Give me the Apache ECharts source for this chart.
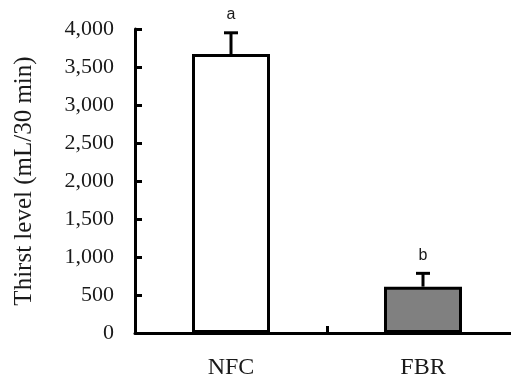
<!DOCTYPE html>
<html>
<head>
<meta charset="utf-8">
<script src="https://cdn.jsdelivr.net/npm/echarts@6/dist/echarts.min.js"></script>
<style>
  html, body { margin: 0; padding: 0; background: #fff; }
  #chart { width: 511px; height: 376px; }
</style>
</head>
<body>
<div id="chart"></div>
<script>
// Thirst level per group, mean and upper error
const categories = ['NFC', 'FBR'];
const means = [3670, 610];
const errors = [280, 175];
const letters = ['a', 'b'];
const yTicks = [0, 500, 1000, 1500, 2000, 2500, 3000, 3500, 4000];

const barColors = ['#ffffff', '#808080'];
const serif = '"Liberation Serif", "DejaVu Serif", serif';
const sans = '"Liberation Sans", Arial, sans-serif';

const chart = echarts.init(document.getElementById('chart'), null, { renderer: 'canvas' });

const errData = categories.map((c, i) => [i, means[i], means[i] + errors[i], letters[i]]);

chart.setOption({
  animation: false,
  backgroundColor: '#ffffff',
  // the category axis runs a little past the right edge of the canvas
  grid: { left: 135, top: 29, width: 384, height: 304, containLabel: false, outerBoundsMode: 'none' },
  xAxis: {
    type: 'category',
    data: categories,
    axisLine: { lineStyle: { color: '#000', width: 3 } },
    axisTick: { show: true, inside: true, length: 7, lineStyle: { color: '#000', width: 3 } },
    axisLabel: { color: '#1a1a1a', fontFamily: serif, fontSize: 24, margin: 23 },
    splitLine: { show: false }
  },
  yAxis: {
    type: 'value',
    min: yTicks[0],
    max: yTicks[yTicks.length - 1],
    interval: 500,
    name: 'Thirst level (mL/30 min)',
    nameLocation: 'middle',
    nameRotate: 90,
    nameGap: 98,
    nameTextStyle: { color: '#1a1a1a', fontFamily: serif, fontSize: 25 },
    axisLine: { show: true, lineStyle: { color: '#000', width: 3 } },
    axisTick: { show: true, inside: true, length: 7, lineStyle: { color: '#000', width: 3 } },
    axisLabel: {
      color: '#1a1a1a', fontFamily: serif, fontSize: 22, margin: 21,
      formatter: v => v.toLocaleString('en-US')
    },
    splitLine: { show: false }
  },
  series: [
    {
      type: 'bar',
      data: means.map((v, i) => ({
        value: v,
        itemStyle: { color: barColors[i], borderColor: '#000', borderWidth: 3 }
      })),
      barWidth: 78,
      z: 2
    },
    {
      type: 'custom',
      z: 3,
      clip: false,
      data: errData,
      renderItem: function (params, api) {
        const x = api.value(0);
        const base = api.coord([x, api.value(1)]);
        const top = api.coord([x, api.value(2)]);
        const half = 7;
        return {
          type: 'group',
          children: [
            { type: 'rect', shape: { x: top[0] - 1.5, y: top[1], width: 3, height: base[1] - top[1] },
              style: { fill: '#000' } },
            { type: 'rect', shape: { x: top[0] - half, y: top[1] - 1.5, width: half * 2, height: 3 },
              style: { fill: '#000' } },
            { type: 'text', x: top[0], y: top[1] - 18,
              style: { text: api.value(3), fill: '#1a1a1a', font: '16px ' + sans,
                       align: 'center', verticalAlign: 'middle' } }
          ]
        };
      }
    }
  ]
});
</script>
</body>
</html>
